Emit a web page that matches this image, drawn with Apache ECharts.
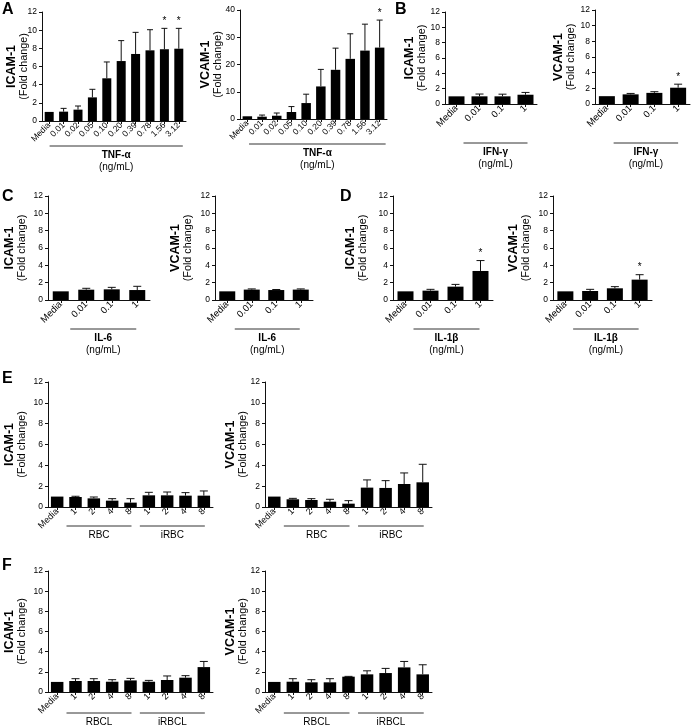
<!DOCTYPE html>
<html>
<head>
<meta charset="utf-8">
<script src="https://cdn.jsdelivr.net/npm/echarts@6/dist/echarts.min.js"></script>
<style>
html,body{margin:0;padding:0;background:#fff;}
#main{width:696px;height:725px;}
</style>
</head>
<body>
<div id="main"></div>
<script>
// ---------- DATA ----------
const tnfDoses = ['Media','0.01','0.02','0.05','0.10','0.20','0.39','0.78','1.56','3.12'];
const icamTNF    = [1.0, 1.03, 1.25, 2.6, 4.7, 6.6, 7.38, 7.78, 7.9, 7.96];
const icamTNFerr = [0, 0.36, 0.4, 0.89, 1.8, 2.25, 2.38, 2.27, 2.3, 2.24];
const icamTNFstar = [0,0,0,0,0,0,0,0,1,1];
const vcamTNF    = [1.0, 0.85, 1.2, 2.56, 5.85, 11.95, 18.05, 22.07, 25.1, 26.2];
const vcamTNFerr = [0, 0.6, 1.0, 2.0, 3.25, 6.25, 7.95, 9.2, 9.7, 10.1];
const vcamTNFstar = [0,0,0,0,0,0,0,0,0,1];

const doseLabels = ['Media','0.01','0.1','1'];
const icamIFN    = [1.0, 1.0, 1.0, 1.21];
const icamIFNerr = [0, 0.3, 0.28, 0.3];
const vcamIFN    = [1.0, 1.23, 1.42, 2.08];
const vcamIFNerr = [0, 0.12, 0.15, 0.45];
const vcamIFNstar = [0,0,0,1];

const icamIL6    = [1.0, 1.19, 1.23, 1.15];
const icamIL6err = [0, 0.16, 0.23, 0.43];
const vcamIL6    = [1.0, 1.2, 1.15, 1.2];
const vcamIL6err = [0, 0.08, 0.06, 0.08];

const icamIL1    = [1.0, 1.08, 1.54, 3.35];
const icamIL1err = [0, 0.15, 0.26, 1.2];
const icamIL1star = [0,0,0,1];
const vcamIL1    = [1.0, 1.04, 1.35, 2.35];
const vcamIL1err = [0, 0.19, 0.19, 0.57];
const vcamIL1star = [0,0,0,1];

const rbcLabels = ['Media','1','2','4','8','1','2','4','8'];
const icamRBC    = [1.0, 0.96, 0.83, 0.61, 0.42, 1.12, 1.12, 1.09, 1.09];
const icamRBCerr = [0, 0.07, 0.13, 0.19, 0.38, 0.29, 0.32, 0.29, 0.45];
const vcamRBC    = [1.0, 0.74, 0.67, 0.51, 0.32, 1.86, 1.83, 2.21, 2.37];
const vcamRBCerr = [0, 0.09, 0.13, 0.23, 0.29, 0.74, 0.7, 1.06, 1.73];

const icamRBCL    = [1.0, 1.09, 1.09, 1.02, 1.15, 1.02, 1.19, 1.42, 2.47];
const icamRBCLerr = [0, 0.23, 0.23, 0.2, 0.2, 0.13, 0.4, 0.2, 0.56];
const vcamRBCL    = [1.0, 1.02, 0.96, 0.96, 1.52, 1.75, 1.88, 2.44, 1.75];
const vcamRBCLerr = [0, 0.3, 0.26, 0.36, 0.03, 0.35, 0.46, 0.59, 0.95];

const groupsTNF  = [{name:'TNF-\u03b1', unit:'(ng/mL)', from:1, to:9}];
const groupsIFN  = [{name:'IFN-\u03b3', unit:'(ng/mL)', from:1, to:3}];
const groupsIL6  = [{name:'IL-6', unit:'(ng/mL)', from:1, to:3}];
const groupsIL1  = [{name:'IL-1\u03b2', unit:'(ng/mL)', from:1, to:3}];
const groupsRBC  = [{name:'RBC', unit:'', from:1, to:4}, {name:'iRBC', unit:'', from:5, to:8}];
const groupsRBCL = [{name:'RBCL', unit:'', from:1, to:4}, {name:'iRBCL', unit:'', from:5, to:8}];

const panelLetters = ['A','B','C','D','E','F'];

// ---------- LAYOUT / STYLE ----------
const FONT = '"Liberation Sans", Arial, Helvetica, sans-serif';
const panels = [
  {cats:tnfDoses, mean:icamTNF, err:icamTNFerr, star:icamTNFstar, max:12, step:2, name:'ICAM-1', groups:groupsTNF, gBold:true,
   l:42, r:186, t:12, b:121, gap:12, xfs:8.5, bw:9, cap:3, lineDy:25, padL:14, padR:4},
  {cats:tnfDoses, mean:vcamTNF, err:vcamTNFerr, star:vcamTNFstar, max:40, step:10, name:'VCAM-1', groups:groupsTNF, gBold:true,
   l:240, r:387, t:10, b:119, gap:16, xfs:8.5, bw:9.5, cap:3, lineDy:25, padL:13, padR:6},
  {cats:doseLabels, mean:icamIFN, err:icamIFNerr, star:null, max:12, step:2, name:'ICAM-1', groups:groupsIFN, gBold:true,
   l:445, r:537, t:12, b:104, gap:17, xfs:9.5, bw:16, cap:4, lineDy:39, padL:16, padR:2},
  {cats:doseLabels, mean:vcamIFN, err:vcamIFNerr, star:vcamIFNstar, max:12, step:2, name:'VCAM-1', groups:groupsIFN, gBold:true,
   l:595, r:690, t:10, b:104, gap:18, xfs:9.5, bw:16, cap:4, lineDy:39, padL:17, padR:0},
  {cats:doseLabels, mean:icamIL6, err:icamIL6err, star:null, max:12, step:2, name:'ICAM-1', groups:groupsIL6, gBold:true,
   l:48, r:150, t:196, b:300, gap:20, xfs:9.5, bw:16, cap:4, lineDy:29, padL:16, padR:-1},
  {cats:doseLabels, mean:vcamIL6, err:vcamIL6err, star:null, max:12, step:2, name:'VCAM-1', groups:groupsIL6, gBold:true,
   l:215, r:313, t:196, b:300, gap:21, xfs:9.5, bw:16, cap:4, lineDy:29, padL:17, padR:-1},
  {cats:doseLabels, mean:icamIL1, err:icamIL1err, star:icamIL1star, max:12, step:2, name:'ICAM-1', groups:groupsIL1, gBold:true,
   l:393, r:493, t:196, b:300, gap:24, xfs:9.5, bw:16, cap:4, lineDy:29, padL:17, padR:-1},
  {cats:doseLabels, mean:vcamIL1, err:vcamIL1err, star:vcamIL1star, max:12, step:2, name:'VCAM-1', groups:groupsIL1, gBold:true,
   l:553, r:652, t:196, b:300, gap:21, xfs:9.5, bw:16, cap:4, lineDy:29, padL:17, padR:-1},
  {cats:rbcLabels, mean:icamRBC, err:icamRBCerr, star:null, max:12, step:2, name:'ICAM-1', groups:groupsRBC, gBold:false,
   l:48, r:213, t:382, b:507, gap:20, xfs:9, bw:12.5, cap:4, lineDy:19, padL:9, padR:1},
  {cats:rbcLabels, mean:vcamRBC, err:vcamRBCerr, star:null, max:12, step:2, name:'VCAM-1', groups:groupsRBC, gBold:false,
   l:265, r:432, t:382, b:507, gap:16, xfs:9, bw:12.5, cap:4, lineDy:19, padL:9, padR:1},
  {cats:rbcLabels, mean:icamRBCL, err:icamRBCLerr, star:null, max:12, step:2, name:'ICAM-1', groups:groupsRBCL, gBold:false,
   l:48, r:213, t:571, b:692, gap:20, xfs:9, bw:12.5, cap:4, lineDy:21, padL:9, padR:1},
  {cats:rbcLabels, mean:vcamRBCL, err:vcamRBCLerr, star:null, max:12, step:2, name:'VCAM-1', groups:groupsRBCL, gBold:false,
   l:265, r:432, t:571, b:692, gap:16, xfs:9, bw:12.5, cap:4, lineDy:21, padL:9, padR:1}
];
const letterPos = [[2,2],[395,2],[2,189],[340,189],[2,371],[2,558]];

// ---------- BUILD ----------
const grids = [], xAxes = [], yAxes = [], series = [];

panels.forEach((p, k) => {
  grids.push({left:p.l, top:p.t, width:p.r - p.l, height:p.b - p.t, containLabel:false, outerBoundsMode:'none'});
  xAxes.push({
    gridIndex:k, type:'category', data:p.cats, boundaryGap:true,
    axisLine:{show:true, lineStyle:{color:'#111', width:1}},
    axisTick:{show:true, alignWithLabel:true, interval:0, length:3, lineStyle:{color:'#111'}},
    axisLabel:{interval:0, rotate:45, fontSize:p.xfs, fontFamily:FONT, color:'#000', margin:3, hideOverlap:false},
    splitLine:{show:false}
  });
  yAxes.push({
    gridIndex:k, type:'value', min:0, max:p.max, interval:p.step,
    axisLine:{show:true, lineStyle:{color:'#111', width:1}},
    axisTick:{show:true, length:3, lineStyle:{color:'#111'}},
    axisLabel:{fontSize:8.5, fontFamily:FONT, color:'#000', margin:5},
    splitLine:{show:false},
    name:'{a|' + p.name + '}\n{b|(Fold change)}',
    nameLocation:'middle', nameRotate:90, nameGap:p.gap, nameMoveOverlap:false,
    nameTextStyle:{
      fontFamily:FONT, color:'#000', align:'center',
      rich:{
        a:{fontFamily:FONT, fontWeight:'bold', fontSize:12.5, lineHeight:13, color:'#000', align:'center'},
        b:{fontFamily:FONT, fontSize:10.8, lineHeight:12, color:'#000', align:'center'}
      }
    }
  });
  series.push({
    type:'bar', xAxisIndex:k, yAxisIndex:k, data:p.mean, barWidth:p.bw,
    itemStyle:{color:'#000'}, silent:true, animation:false
  });
  series.push({
    type:'custom', xAxisIndex:k, yAxisIndex:k, silent:true, animation:false, z:5,
    data:p.mean.map((m, i) => [i, m, m + p.err[i], p.star ? p.star[i] : 0]),
    renderItem:(params, api) => {
      const i = api.value(0), m = api.value(1), u = api.value(2), s = api.value(3);
      const base = api.coord([i, m]);
      const top = api.coord([i, u]);
      const ch = [];
      if (u > m) {
        ch.push({type:'line', shape:{x1:base[0], y1:base[1], x2:top[0], y2:top[1]}, style:{stroke:'#111', lineWidth:1}});
        ch.push({type:'line', shape:{x1:top[0] - p.cap, y1:top[1], x2:top[0] + p.cap, y2:top[1]}, style:{stroke:'#111', lineWidth:1}});
      }
      if (s) {
        ch.push({type:'text', style:{text:'*', x:top[0], y:top[1] - 2, align:'center', verticalAlign:'bottom',
          fontFamily:FONT, fontSize:10, fill:'#000'}});
      }
      return {type:'group', children:ch};
    }
  });
  series.push({
    type:'custom', xAxisIndex:k, yAxisIndex:k, silent:true, animation:false, clip:false,
    data:p.groups.map(g => [g.from, g.to]),
    renderItem:(params, api) => {
      const g = p.groups[params.dataIndex];
      const a = api.coord([api.value(0), 0]);
      const b = api.coord([api.value(1), 0]);
      const x1 = a[0] - p.padL, x2 = b[0] + p.padR, y = a[1] + p.lineDy;
      const mid = (x1 + x2) / 2;
      const ch = [
        {type:'line', shape:{x1:x1, y1:y, x2:x2, y2:y}, style:{stroke:'#333', lineWidth:1}},
        {type:'text', style:{text:g.name, x:mid, y:y + 9, align:'center', verticalAlign:'middle',
          fontFamily:FONT, fontSize:10, fontWeight:p.gBold ? 'bold' : 'normal', fill:'#000'}}
      ];
      if (g.unit) {
        ch.push({type:'text', style:{text:g.unit, x:mid, y:y + 21, align:'center', verticalAlign:'middle',
          fontFamily:FONT, fontSize:10, fill:'#000'}});
      }
      return {type:'group', children:ch};
    }
  });
});

const graphics = panelLetters.map((L, i) => ({
  type:'text', left:letterPos[i][0], top:letterPos[i][1], silent:true,
  style:{text:L, fontFamily:FONT, fontSize:16, fontWeight:'bold', fill:'#000'}
}));

const chart = echarts.init(document.getElementById('main'), null, {renderer:'canvas'});
chart.setOption({
  backgroundColor:'#fff',
  animation:false,
  grid:grids, xAxis:xAxes, yAxis:yAxes, series:series,
  graphic:graphics
});
</script>
</body>
</html>
